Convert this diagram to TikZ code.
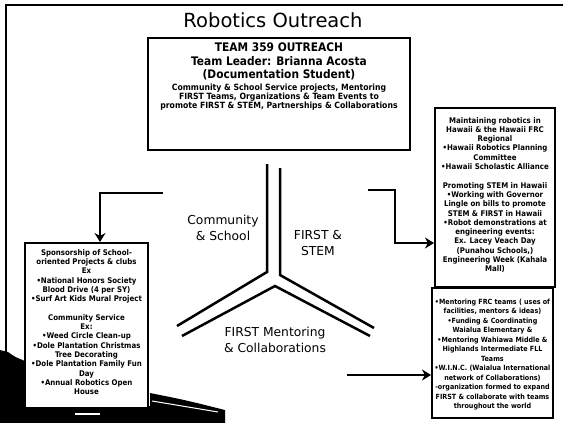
\documentclass[tikz,border=0pt]{standalone}
\usepackage{fontspec}
\setmainfont{DejaVu Sans}
\newfontfamily\condf{DejaVu Sans Condensed}
\usetikzlibrary{arrows.meta}
\begin{document}
\begin{tikzpicture}[x=1pt,y=-1pt,
  frame/.style={line width=2pt},
  boxed/.style={draw,line width=2pt,fill=white,inner sep=0pt},
  small/.style={align=center,font=\condf\bfseries\fontsize{7.8}{9.3}\selectfont},
  lbl/.style={align=center,font=\fontsize{12.3}{16}\selectfont},
  divider/.style={line width=2.5pt},
  arr/.style={line width=2.5pt,-{Stealth[length=9pt,width=11pt]}}]
\useasboundingbox (0,0) rectangle (563,423);
% frame and swoosh
\draw[frame] (6,354) -- (6,5) -- (563,5);
\fill (0,350) -- (8,352) .. controls (15,357) .. (25,361) -- (25,423) -- (0,423) -- cycle;
\fill (25,406) -- (150,406) -- (150,393) .. controls (185,400) .. (225,410) -- (225,423) -- (25,423) -- cycle;
\draw[white,line width=1pt] (152,401) .. controls (185,406) .. (218,412);
\draw[white,line width=1.2pt] (75,414) -- (100,414);
% title
\node[font=\fontsize{19.5}{22}\selectfont] (title) at (273,20) {Robotics Outreach};
% top box
\node[boxed,minimum width=262,minimum height=112] (top) at (279,94) {};
\node[align=center,font=\condf\bfseries\fontsize{11.8}{13.5}\selectfont,inner sep=0pt,anchor=north] (toph) at (279,43)
  {TEAM 359 OUTREACH\\Team Leader: Brianna Acosta\\(Documentation Student)};
\node[align=center,font=\condf\bfseries\fontsize{8.6}{8.8}\selectfont,inner sep=0pt,anchor=north] (topt) at (279,84)
  {Community \& School Service projects, Mentoring\\FIRST Teams, Organizations \& Team Events to\\promote FIRST \& STEM, Partnerships \& Collaborations};
% side boxes
\node[boxed,minimum width=123,minimum height=165] (lbox) at (86.5,325.5) {};
\node[small,inner sep=0pt] (ltext) at (86.5,322) {Sponsorship of School-\\oriented Projects \& clubs\\Ex\\•National Honors Society\\Blood Drive (4 per SY)\\•Surf Art Kids Mural Project\\[9.3pt]Community Service\\Ex:\\•Weed Circle Clean-up\\•Dole Plantation Christmas\\Tree Decorating\\•Dole Plantation Family Fun\\Day\\•Annual Robotics Open\\House};
\node[boxed,minimum width=120,minimum height=179] (rtbox) at (495,197.5) {};
\node[small,inner sep=0pt] (rttext) at (495,195) {Maintaining robotics in\\Hawaii \& the Hawaii FRC\\Regional\\•Hawaii Robotics Planning\\Committee\\•Hawaii Scholastic Alliance\\[9.3pt]Promoting STEM in Hawaii\\•Working with Governor\\Lingle on bills to promote\\STEM \& FIRST in Hawaii\\•Robot demonstrations at\\engineering events:\\Ex. Lacey Veach Day\\(Punahou Schools,)\\Engineering Week (Kahala\\Mall)};
\node[boxed,minimum width=121,minimum height=130] (rbbox) at (492.5,353) {};
\node[small,inner sep=0pt,font=\condf\bfseries\fontsize{7.1}{9.5}\selectfont] (rbtext) at (492.5,354.5) {•Mentoring FRC teams ( uses of\\facilities, mentors \& ideas)\\•Funding \& Coordinating\\Waialua Elementary \&\\•Mentoring Wahiawa Middle \&\\Highlands Intermediate FLL\\Teams\\•W.I.N.C. (Waialua International\\network of Collaborations)\\-organization formed to expand\\FIRST \& collaborate with teams\\throughout the world};
% Y divider
\draw[divider] (267,164) -- (267,272) -- (177,326);
\draw[divider] (280,168) -- (280,275) -- (374,328);
\draw[divider] (182,336) -- (275,286) -- (370,336);
% labels
\node[lbl] (cs) at (223,228) {Community\\\& School};
\node[lbl] (fs) at (318,243) {FIRST \&\\STEM};
\node[lbl] (fm) at (275,340) {FIRST Mentoring\\\& Collaborations};
% arrows
\coordinate (ls) at (163,193);
\coordinate (rs) at (368,190);
\coordinate (bs) at (347,375);
\draw[arr] (ls) -| ([xshift=13.5pt]lbox.north);
\draw[arr] (rs) -| (395,243) -- (rtbox.west |- 0,243);
\draw[arr] (bs) -- (rbbox.west |- 0,375);
\end{tikzpicture}
\end{document}
